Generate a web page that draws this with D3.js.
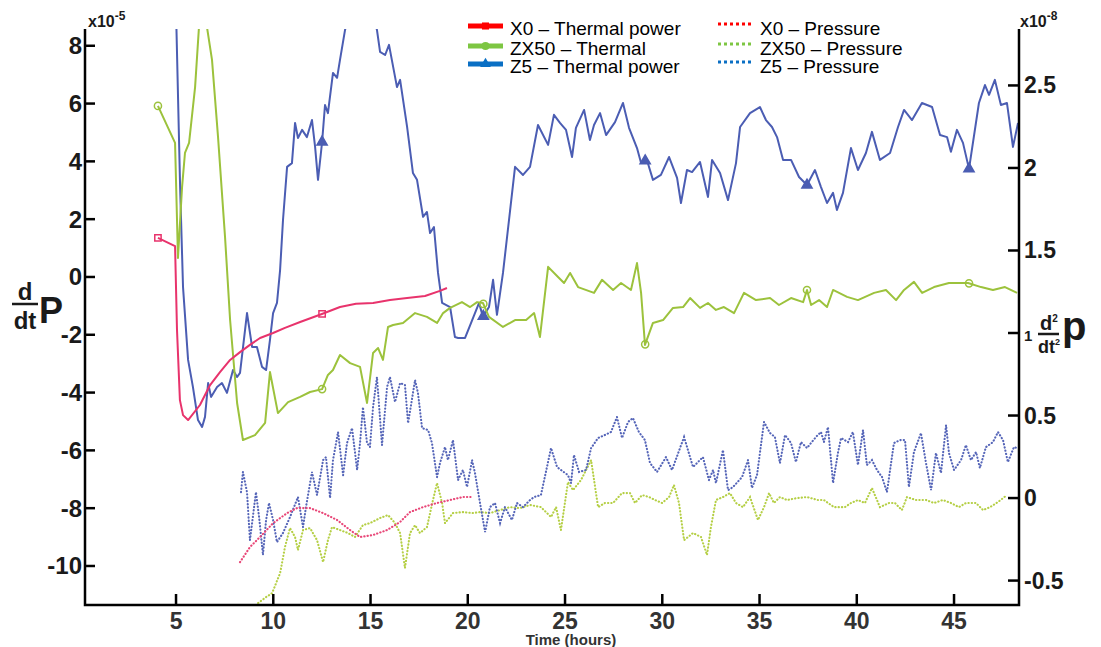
<!DOCTYPE html>
<html><head><meta charset="utf-8">
<script src="https://cdn.jsdelivr.net/npm/d3@7"></script>
<style>
html,body{margin:0;padding:0;background:#fff;}
svg{display:block;font-family:"Liberation Sans",Arial,sans-serif;}
</style></head><body>
<svg id="chart" width="1101" height="647"></svg>
<script>
// ---- data (time in hours; thermal in x1e-5, pressure in x1e-8) ----
const x0Thermal = [[4.07,1.35],[4.95,1.07],[5.05,-1.83],[5.2,-4.26],[5.36,-4.78],[5.62,-4.95],[6.23,-4.43],[6.75,-3.74],
  [7.26,-3.29],[7.78,-2.87],[8.29,-2.6],[8.8,-2.35],[9.32,-2.11],[9.99,-1.94],[10.6,-1.76],[11.38,-1.56],[11.94,-1.42],
  [12.5,-1.28],[13.43,-1.04],[14.25,-0.93],[15.13,-0.9],[16,-0.8],[16.88,-0.73],[17.8,-0.66],[18.57,-0.48],[18.93,-0.38]];

const zx50Thermal = [[4.07,5.92],[4.95,4.64],[5.1,0.66],[5.31,3.11],[5.46,4.29],[5.67,4.64],[5.98,6.57],[6.18,8.65],[6.38,9.6],
  [6.59,8.65],[6.85,7.51],[7.16,4.84],[7.52,1.38],[7.78,-1.49],[8.14,-4.36],[8.44,-5.64],[9.06,-5.47],[9.58,-5.05],[9.83,-3.29],
  [10.24,-4.71],[10.76,-4.33],[11.38,-4.15],[11.89,-3.98],[12.51,-3.88],[12.81,-3.39],[13.07,-3.22],[13.43,-2.7],[13.95,-2.98],
  [14.46,-3.11],[14.82,-4.36],[15.13,-2.63],[15.39,-2.46],[15.64,-2.87],[15.9,-1.73],[16.16,-1.66],[16.67,-1.59],[17.29,-1.25],
  [17.9,-1.38],[18.42,-1.59],[18.73,-1.25],[19.09,-1.07],[19.7,-0.87],[20.12,-1.04],[20.48,-0.87],[20.78,-0.9],[21.09,-1.38],
  [21.81,-1.73],[22.43,-1.49],[23.0,-1.49],[23.41,-1.25],[23.71,-2.08],[24.13,0.35],[24.64,0],[24.95,-0.21],[25.26,0.14],
  [25.67,-0.35],[26.49,-0.55],[26.9,-0.1],[27.47,-0.45],[27.88,-0.21],[28.39,-0.45],[28.7,0.48],[28.91,-0.55],[29.11,-2.35],
  [29.52,-1.59],[30.04,-1.49],[30.55,-1.07],[31.07,-1.04],[31.43,-0.73],[31.94,-1.07],[32.35,-0.9],[32.76,-1.14],[33.17,-1.04],
  [33.69,-1.25],[34.2,-0.55],[34.82,-0.8],[35.54,-0.73],[36.0,-0.97],[36.62,-0.73],[37.24,-0.87],[37.44,-0.45],[37.65,-0.97],
  [38.06,-0.8],[38.47,-1.04],[38.78,-0.45],[39.5,-0.69],[40.06,-0.8],[40.89,-0.55],[41.5,-0.45],[42.02,-0.8],[42.43,-0.45],
  [42.94,-0.17],[43.36,-0.55],[43.97,-0.35],[44.74,-0.21],[45.72,-0.21],[46.39,-0.35],[47.0,-0.45],[47.62,-0.35],[48.24,-0.55]];

const z5Thermal = [[4.98,9.8],[5.21,3.11],[5.36,-0.35],[5.62,-2.87],[5.87,-3.81],[6.13,-4.95],[6.34,-5.19],[6.49,-4.84],[6.65,-3.67],
  [6.8,-4.15],[7.11,-3.81],[7.36,-3.67],[7.62,-4.01],[7.93,-3.22],[8.14,-3.46],[8.29,-3.32],[8.65,-1.25],[8.91,-2.42],[9.16,-2.42],
  [9.42,-3.11],[9.63,-3.22],[9.83,-2.18],[9.99,-1.25],[10.19,-0.9],[10.35,0.24],[10.5,1.97],[10.71,3.81],[10.96,3.94],[11.12,5.33],
  [11.27,4.81],[11.48,5.09],[11.73,4.84],[11.99,5.43],[12.15,4.5],[12.3,3.36],[12.51,4.67],[12.66,5.95],[12.81,5.67],[13.07,7.06],
  [13.28,6.89],[13.43,7.51],[13.69,8.55],[14.51,10.5],[15.33,8.55],[15.49,7.79],[15.75,7.68],[15.95,8.03],[16.36,6.57],[16.52,6.82],
  [16.88,5.19],[17.18,3.6],[17.39,3.36],[17.7,2.08],[17.9,2.25],[18.06,1.52],[18.26,1.73],[18.47,0.14],[18.68,-0.9],[19.09,-1.04],
  [19.34,-2.08],[19.5,-2.11],[19.86,-2.11],[20.17,-1.59],[20.58,-0.9],[20.78,-1.38],[21.09,-1.04],[21.3,-0.1],[21.5,-1.31],
  [21.81,0.14],[22.43,3.81],[22.84,3.53],[23.2,3.81],[23.61,5.26],[24.13,4.57],[24.43,5.61],[24.74,5.33],[25.05,5.09],[25.36,4.15],
  [25.56,5.16],[25.98,5.78],[26.28,4.74],[26.49,5.26],[26.8,5.67],[27.11,4.91],[27.57,5.36],[27.98,6.02],[28.29,5.16],[28.7,4.46],
  [28.91,3.94],[29.21,4.05],[29.52,3.36],[29.93,3.53],[30.35,4.15],[30.76,3.43],[30.96,2.56],[31.27,3.7],[31.53,3.63],[31.94,3.98],
  [32.35,2.77],[32.56,4.05],[32.97,3.6],[33.38,2.66],[33.79,3.94],[34.0,5.19],[34.51,5.67],[35.02,5.88],[35.33,5.43],[35.64,5.19],
  [35.9,4.84],[36.21,4.05],[36.62,4.05],[37.03,3.46],[37.44,3.18],[37.85,3.7],[38.16,3.11],[38.47,2.56],[38.78,2.91],[38.98,2.32],
  [39.29,2.91],[39.7,4.46],[40.06,3.7],[40.47,4.29],[40.78,5.02],[41.19,4.05],[41.71,4.29],[42.12,5.19],[42.43,5.78],[42.84,5.43],
  [43.35,6.02],[43.87,5.88],[44.28,4.91],[44.64,4.84],[44.84,4.33],[45.15,5.09],[45.46,4.64],[45.77,3.74],[46.28,6.02],[46.59,6.64],
  [46.8,6.3],[47.1,6.82],[47.41,5.95],[47.72,6.02],[48.03,4.5],[48.29,5.33]];

const x0Pressure = [[8.29,-0.388],[8.8,-0.297],[9.32,-0.236],[9.99,-0.152],[10.71,-0.091],[11.22,-0.061],[11.89,-0.061],
  [12.56,-0.091],[13.28,-0.133],[13.95,-0.194],[14.46,-0.236],[15.13,-0.224],[15.85,-0.194],[16.52,-0.145],[17.03,-0.085],
  [17.7,-0.055],[18.42,-0.03],[19.09,-0.012],[19.75,0.006],[20.27,0.006]];

const zx50Pressure = [[9.22,-0.636],[9.63,-0.6],[9.94,-0.576],[10.35,-0.455],[10.6,-0.297],[10.86,-0.182],[11.12,-0.236],
  [11.27,-0.315],[11.53,-0.194],[11.89,-0.182],[12.25,-0.255],[12.56,-0.388],[12.81,-0.255],[13.02,-0.176],[13.43,-0.194],
  [13.84,-0.212],[14.2,-0.236],[14.61,-0.164],[14.97,-0.152],[15.49,-0.121],[15.9,-0.103],[16.26,-0.152],[16.52,-0.212],
  [16.77,-0.424],[17.03,-0.212],[17.29,-0.164],[17.54,-0.212],[17.9,-0.176],[18.21,-0.012],[18.42,0.091],[18.68,-0.03],
  [18.83,-0.152],[19.24,-0.091],[19.75,-0.085],[20.22,-0.091],[20.63,-0.085],[21.14,-0.091],[21.66,-0.073],[22.17,-0.055],
  [22.69,-0.061],[23.2,-0.042],[23.76,-0.055],[24.28,-0.115],[24.54,-0.055],[24.79,-0.194],[25.15,0.097],[25.41,0.048],
  [25.82,0.109],[26.34,0.23],[26.7,-0.055],[27.05,-0.03],[27.47,-0.03],[27.93,0.03],[28.34,0.03],[28.6,-0.03],[28.96,0.018],
  [29.32,0.006],[29.63,-0.012],[29.99,-0.03],[30.35,0.006],[30.6,0.079],[30.86,-0.03],[31.12,-0.255],[31.58,-0.212],
  [31.99,-0.236],[32.3,-0.345],[32.5,-0.176],[32.76,-0.012],[33.12,0.006],[33.48,0.03],[33.79,-0.03],[34.15,-0.055],
  [34.51,0.006],[34.92,-0.133],[35.23,-0.055],[35.49,0.03],[35.74,-0.03],[36.05,0.006],[36.41,-0.012],[36.93,0],[37.44,0.006],
  [38.0,-0.012],[38.31,-0.012],[38.83,-0.055],[39.39,-0.055],[39.7,-0.03],[40.06,-0.012],[40.42,-0.03],[40.78,0.061],
  [41.19,-0.055],[41.66,-0.03],[41.96,-0.03],[42.32,-0.073],[42.58,0.006],[43.04,-0.012],[43.56,-0.012],[43.97,-0.03],
  [44.43,-0.012],[44.84,-0.03],[45.25,-0.055],[45.61,-0.03],[46.13,-0.03],[46.49,-0.073],[46.85,-0.055],[47.26,-0.024],[47.72,0.018]];

const z5Pressure = [[8.34,0.036],[8.44,0.158],[8.65,0.036],[8.8,-0.255],[9.11,0.036],[9.27,-0.115],[9.47,-0.345],[9.63,-0.133],
  [9.78,-0.03],[9.99,-0.133],[10.19,-0.267],[10.5,-0.212],[10.86,-0.115],[11.27,0.006],[11.53,-0.176],[11.68,-0.055],[11.99,0.158],
  [12.25,0.018],[12.56,0.23],[12.71,0.248],[12.92,0],[13.07,0.23],[13.33,0.4],[13.59,0.139],[13.79,0.333],[14.05,0.424],[14.31,0.17],
  [14.46,0.333],[14.61,0.551],[14.82,0.333],[14.97,0.309],[15.13,0.551],[15.33,0.733],[15.59,0.321],[15.85,0.673],[16.0,0.733],
  [16.26,0.582],[16.52,0.697],[16.77,0.685],[16.93,0.454],[17.29,0.715],[17.44,0.636],[17.65,0.424],[17.96,0.412],[18.16,0.333],
  [18.42,0.127],[18.57,0.212],[18.83,0.309],[18.98,0.23],[19.24,0.351],[19.5,0.109],[19.75,0.17],[19.96,0.067],[20.22,0.23],
  [20.37,0.152],[20.63,-0.03],[20.89,-0.206],[21.14,-0.055],[21.4,-0.03],[21.66,-0.152],[21.91,-0.055],[22.27,-0.133],[22.53,-0.03],
  [22.84,-0.055],[23.2,-0.012],[23.41,0.006],[23.76,0.018],[24.28,0.303],[24.59,0.188],[25.15,0.139],[25.31,0.091],[25.46,0.261],
  [25.72,0.158],[26.08,0.17],[26.34,0.303],[26.7,0.364],[27.05,0.382],[27.36,0.4],[27.67,0.491],[27.93,0.364],[28.24,0.461],
  [28.49,0.485],[28.8,0.4],[29.11,0.351],[29.37,0.212],[29.73,0.158],[30.19,0.248],[30.5,0.17],[31.12,0.37],[31.58,0.188],
  [32.09,0.248],[32.4,0.109],[32.61,0.17],[32.76,0.091],[33.12,0.291],[33.38,0.048],[33.64,0.067],[34.1,0.127],[34.41,0.23],
  [34.61,0.061],[34.87,0.139],[35.23,0.461],[35.54,0.394],[35.79,0.37],[36.05,0.212],[36.31,0.382],[36.62,0.333],[36.87,0.218],
  [37.13,0.339],[37.44,0.303],[37.9,0.37],[38.16,0.4],[38.31,0.339],[38.52,0.43],[38.78,0.091],[39.03,0.273],[39.19,0.364],
  [39.55,0.339],[39.8,0.4],[40.06,0.2],[40.32,0.412],[40.52,0.2],[40.78,0.23],[41.04,0.17],[41.3,0.127],[41.55,0.036],[41.91,0.333],
  [42.22,0.351],[42.48,0.351],[42.68,0.067],[42.94,0.279],[43.3,0.394],[43.56,0.212],[43.82,0.048],[44.07,0.273],[44.33,0.152],
  [44.59,0.442],[44.74,0.273],[45.0,0.17],[45.36,0.23],[45.61,0.321],[45.87,0.23],[46.13,0.279],[46.33,0.182],[46.64,0.309],
  [47.0,0.339],[47.26,0.4],[47.52,0.351],[47.77,0.218],[48.08,0.309],[48.24,0.303]];

const markerTimes = [4.07, 12.51, 20.8, 29.12, 37.44, 45.77];
const xTicks = [5, 10, 15, 20, 25, 30, 35, 40, 45];
const leftTicks = [-10, -8, -6, -4, -2, 0, 2, 4, 6, 8];
const rightTicks = [-0.5, 0, 0.5, 1, 1.5, 2, 2.5];

const legendSolid = [
  { label: "X0 \u2013 Thermal power", color: "#ff0000", symbol: d3.symbolSquare },
  { label: "ZX50 \u2013 Thermal", color: "#7dc642", symbol: d3.symbolCircle },
  { label: "Z5 \u2013 Thermal power", color: "#0a6fc4", symbol: d3.symbolTriangle },
];
const legendDotted = [
  { label: "X0 \u2013 Pressure", color: "#ff0000" },
  { label: "ZX50 \u2013 Pressure", color: "#7dc642" },
  { label: "Z5 \u2013 Pressure", color: "#0a6fc4" },
];

// ---- layout ----
const svg = d3.select("#chart");
const L = 85, R = 1019, T = 29, B = 605;
const x = d3.scaleLinear().domain([0.32, 48.34]).range([L, R]);
const yL = d3.scaleLinear().domain([-11.35, 8.58]).range([B, T]);
const yR = d3.scaleLinear().domain([-0.648, 2.842]).range([B, T]);

svg.append("clipPath").attr("id", "clip").append("rect")
  .attr("x", L).attr("y", T).attr("width", R - L).attr("height", B - T);
const plot = svg.append("g").attr("clip-path", "url(#clip)");

const lineL = d3.line().x(d => x(d[0])).y(d => yL(d[1]));
const lineR = d3.line().x(d => x(d[0])).y(d => yR(d[1]));

// pressure (dotted, right axis)
const dotted = [
  { data: zx50Pressure, color: "#b5cf45" },
  { data: z5Pressure, color: "#5565b8" },
  { data: x0Pressure, color: "#e84677" },
];
dotted.forEach(s => {
  plot.append("path").attr("d", lineR(s.data)).attr("fill", "none")
    .attr("stroke", s.color).attr("stroke-width", 2.1)
    .attr("stroke-dasharray", "0.3 3").attr("stroke-linecap", "round");
});

// thermal power (solid, left axis) with markers
const solid = [
  { data: z5Thermal, color: "#4b5db3", sym: d3.symbolTriangle, fill: true },
  { data: zx50Thermal, color: "#9cc23c", sym: d3.symbolCircle, fill: false },
  { data: x0Thermal, color: "#e8336c", sym: d3.symbolSquare, fill: false },
];
function valueAt(data, t) {
  if (t < data[0][0] || t > data[data.length - 1][0]) return null;
  for (let i = 1; i < data.length; i++) {
    if (data[i][0] >= t) {
      const a = data[i - 1], b = data[i];
      return a[1] + (b[1] - a[1]) * (t - a[0]) / (b[0] - a[0]);
    }
  }
  return null;
}
solid.forEach(s => {
  plot.append("path").attr("d", lineL(s.data)).attr("fill", "none")
    .attr("stroke", s.color).attr("stroke-width", 2).attr("stroke-linejoin", "round");
  markerTimes.forEach(t => {
    const v = valueAt(s.data, t);
    if (v == null) return;
    plot.append("path").attr("d", d3.symbol().type(s.sym).size(s.sym === d3.symbolTriangle ? 45 : 40)())
      .attr("transform", `translate(${x(t)},${yL(v)})`)
      .attr("fill", s.fill ? s.color : "none").attr("stroke", s.color).attr("stroke-width", 1.5);
  });
});

// ---- axes ----
const ax = svg.append("g").attr("stroke", "#000").attr("stroke-width", 2.5).attr("fill", "none");
ax.append("path").attr("d", `M${L},${T}V${B}H${R}V${T}`);
ax.selectAll("line.xt").data(xTicks).join("line").attr("x1", d => x(d)).attr("x2", d => x(d)).attr("y1", B).attr("y2", B - 11);
ax.selectAll("line.lt").data(leftTicks).join("line").attr("x1", L).attr("x2", L + 10).attr("y1", d => yL(d)).attr("y2", d => yL(d));
ax.selectAll("line.rt").data(rightTicks).join("line").attr("x1", R).attr("x2", R - 11).attr("y1", d => yR(d)).attr("y2", d => yR(d));

const txt = svg.append("g").attr("font-weight", "bold").attr("fill", "#1a1a1a");
txt.selectAll("text.xl").data(xTicks).join("text").attr("x", d => x(d)).attr("y", 629)
  .attr("text-anchor", "middle").attr("font-size", 23).attr("fill", "#333").text(d => d);
txt.selectAll("text.ll").data(leftTicks).join("text").attr("x", 82).attr("y", d => yL(d) + 8.5)
  .attr("text-anchor", "end").attr("font-size", 24).text(d => d);
txt.selectAll("text.rl").data(rightTicks).join("text").attr("x", 1024).attr("y", d => yR(d) + 8)
  .attr("text-anchor", "start").attr("font-size", d => d === 1 ? 15 : 23).text(d => d);

// exponent labels
const e1 = txt.append("text").attr("x", 88).attr("y", 27).attr("font-size", 16);
e1.append("tspan").text("x10");
e1.append("tspan").attr("dy", -7).attr("font-size", 12).text("-5");
const e2 = txt.append("text").attr("x", 1020).attr("y", 27).attr("font-size", 16);
e2.append("tspan").text("x10");
e2.append("tspan").attr("dy", -7).attr("font-size", 12).text("-8");

// x-axis title
txt.append("text").attr("x", 571).attr("y", 645).attr("text-anchor", "middle")
  .attr("font-size", 15).attr("fill", "#333").text("Time (hours)");

// left y label: d/dt P
const yl = svg.append("g").attr("font-weight", "bold").attr("fill", "#1a1a1a");
yl.append("text").attr("x", 25).attr("y", 300).attr("text-anchor", "middle").attr("font-size", 24).text("d");
yl.append("line").attr("x1", 12).attr("x2", 38).attr("y1", 304).attr("y2", 304).attr("stroke", "#1a1a1a").attr("stroke-width", 2.5);
yl.append("text").attr("x", 25).attr("y", 329).attr("text-anchor", "middle").attr("font-size", 24).text("dt");
yl.append("text").attr("x", 39).attr("y", 323).attr("font-size", 36).text("P");

// right y label: d2/dt2 p
const yr = svg.append("g").attr("font-weight", "bold").attr("fill", "#1a1a1a");
const n = yr.append("text").attr("x", 1040).attr("y", 330).attr("font-size", 20);
n.append("tspan").text("d");
n.append("tspan").attr("dy", -8).attr("font-size", 10).text("2");
yr.append("line").attr("x1", 1038).attr("x2", 1059).attr("y1", 334).attr("y2", 334).attr("stroke", "#1a1a1a").attr("stroke-width", 2.5);
const dn = yr.append("text").attr("x", 1038).attr("y", 353).attr("font-size", 18);
dn.append("tspan").text("dt");
dn.append("tspan").attr("dy", -8).attr("font-size", 9).text("2");
yr.append("text").attr("x", 1062).attr("y", 340).attr("font-size", 40).text("p");

// ---- legend ----
const lg = svg.append("g").attr("font-size", 19).attr("fill", "#000");
const rowY = [26, 46, 64];
legendSolid.forEach((d, i) => {
  lg.append("line").attr("x1", 468).attr("x2", 503).attr("y1", rowY[i]).attr("y2", rowY[i])
    .attr("stroke", d.color).attr("stroke-width", 5);
  lg.append("path").attr("d", d3.symbol().type(d.symbol).size(50)())
    .attr("transform", `translate(485.5,${rowY[i]})`).attr("fill", d.color);
  lg.append("text").attr("x", 510).attr("y", rowY[i] + 9).text(d.label);
});
legendDotted.forEach((d, i) => {
  lg.append("line").attr("x1", 718).attr("x2", 753).attr("y1", rowY[i] - 2).attr("y2", rowY[i] - 2)
    .attr("stroke", d.color).attr("stroke-width", 3).attr("stroke-dasharray", "3 3");
  lg.append("text").attr("x", 760).attr("y", rowY[i] + 9).text(d.label);
});
</script>
</body></html>
